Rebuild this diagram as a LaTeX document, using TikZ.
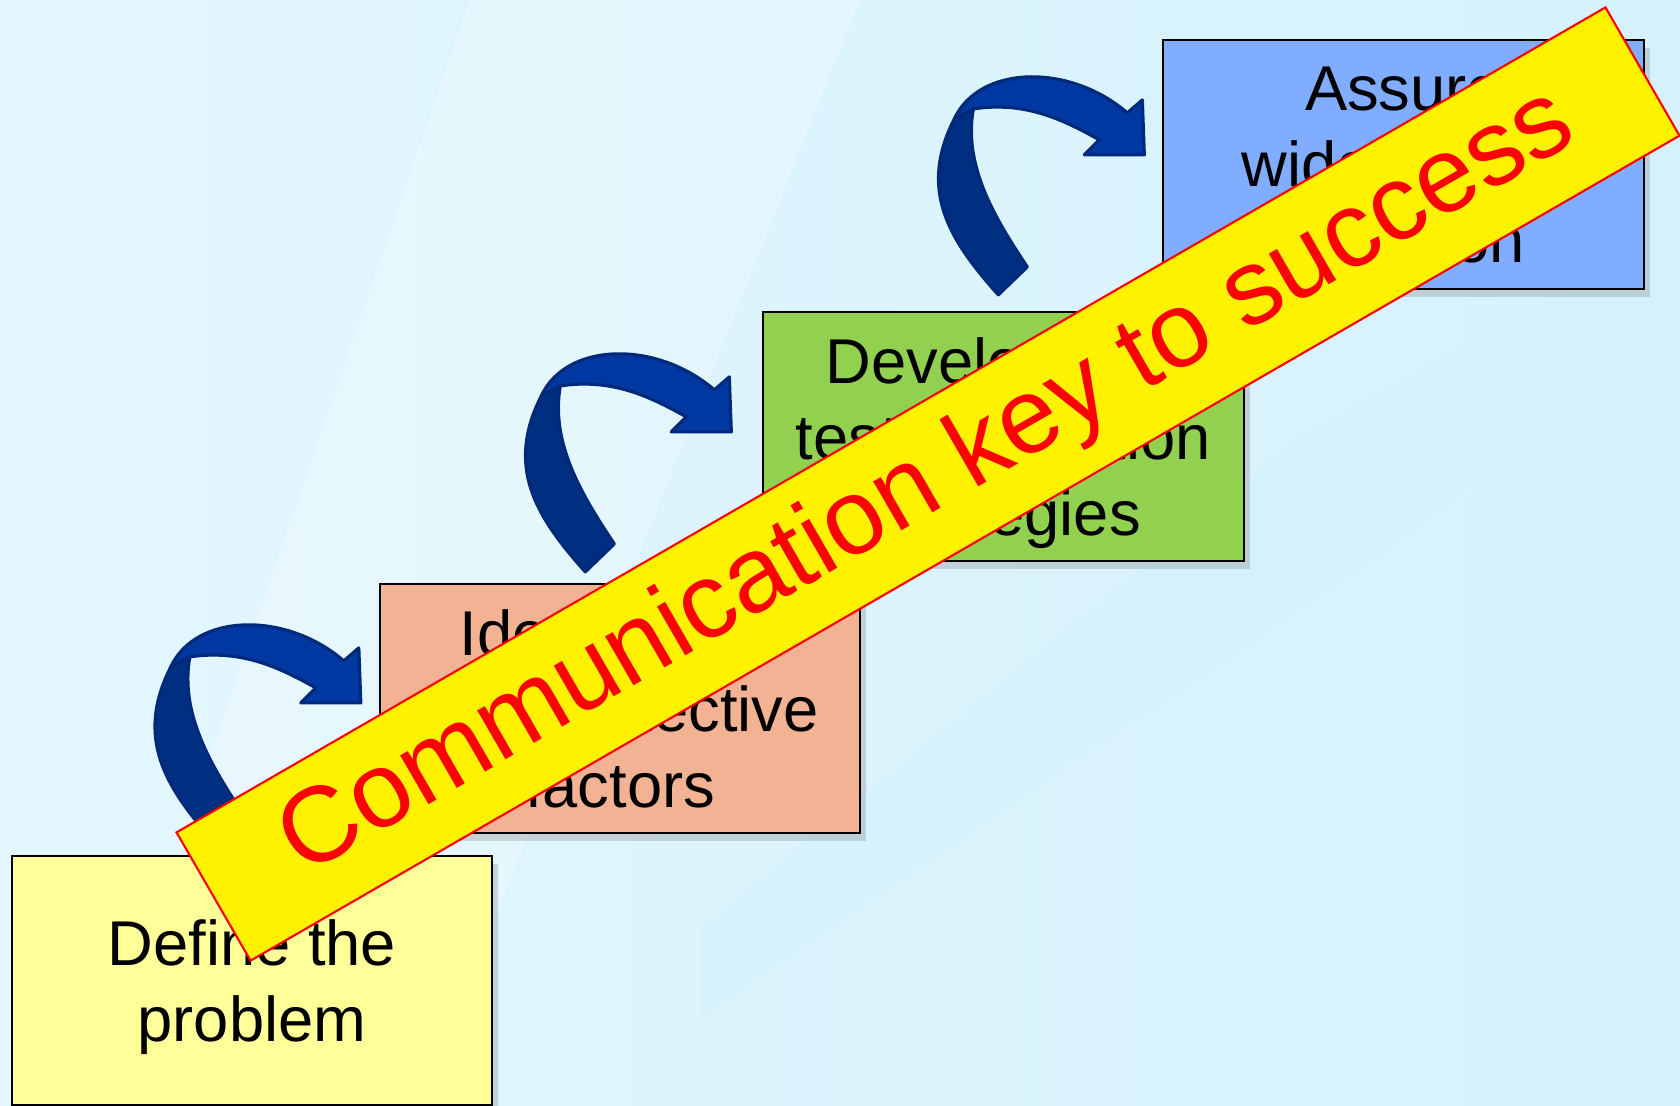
\documentclass[tikz,border=0pt]{standalone}
\usepackage{fontspec}
\setmainfont{Liberation Sans}
\usetikzlibrary{shadows,calc}

\definecolor{skytop}{HTML}{E3F6FD}
\definecolor{skybottom}{HTML}{D5F2FC}
\definecolor{skyband}{HTML}{C4EDFB}
\definecolor{definefill}{HTML}{FFFF99}
\definecolor{identifyfill}{HTML}{F2B395}
\definecolor{developfill}{HTML}{92D050}
\definecolor{assurefill}{HTML}{80ADFF}
\definecolor{arrowback}{HTML}{002E80}
\definecolor{arrowfront}{HTML}{0038A2}
\definecolor{arrowedge}{HTML}{00297A}

\begin{document}
\begin{tikzpicture}[x=0.01cm, y=-0.01cm,
    stepbox/.style={draw=black, line width=0.6pt, minimum width=4.8cm, minimum height=2.49cm,
        inner sep=0pt, align=center, text depth=0pt,
        font=\fontsize{18}{21.6}\selectfont,
        drop shadow={shadow xshift=0.6mm, shadow yshift=-0.8mm, opacity=0.3}},
    arrowpart/.style={draw=arrowedge, line width=0.9pt, line join=round},
    banner/.style={draw=red, line width=0.6pt, fill=yellow, text=red, rotate=30,
        minimum width=16.49cm, minimum height=1.48cm, inner sep=0pt,
        font=\fontsize{30.4}{36}\selectfont}]

    % background
    \useasboundingbox (0,0) rectangle (1680,1105);
    \shade[left color=skytop, right color=skybottom] (0,0) rectangle (1680,1105);
    \fill[white, opacity=0.2] (470,0) -- (860,0) -- (420,1105) -- (90,1105) -- cycle;
    \shade[left color=skybottom, middle color=skyband, right color=skybottom, opacity=0.8]
        (700,929) -- (1300,437) -- (1680,230) -- (1680,330) -- (1392,545) -- (700,1019) -- cycle;

    % the four steps
    \node[stepbox, fill=definefill] (define) at (252,980.5) {Define the\\problem};
    \node[stepbox, fill=identifyfill] (identify) at (620,708.5) {Identify risk\\and protective\\factors};
    \node[stepbox, fill=developfill] (develop) at (1003.5,436.5) {Develop and\\test prevention\\strategies};
    \node[stepbox, fill=assurefill] (assure) at (1403.5,164.5) {Assure\\widespread\\adoption};

    % curved arrows, head just left of the next step
    \foreach \nxt/\dx/\dy in {identify/-18/120, develop/-31/121, assure/-18/116}
    {
        \begin{scope}[shift={($(\nxt.north west)+(\dx,\dy)$)}]
            \filldraw[arrowpart, fill=arrowback] (-171,-46) -- (-185,-44) -- (-190,-36)
                .. controls (-226,35) and (-196,84) .. (-146,140) -- (-117,112)
                .. controls (-150.6,62) and (-181,10) .. (-171,-46) -- cycle;
            \filldraw[arrowpart, fill=arrowfront] (-45,-15) -- (-60,0) -- (0,0) -- (-2,-55) -- (-17,-42)
                .. controls (-75,-92) and (-165,-90) .. (-190,-36) -- (-171,-46)
                .. controls (-121,-53.5) and (-84,-37) .. (-45,-15) -- cycle;
        \end{scope}
    }

    % slogan
    \node[banner] (slogan) at (928,484) {Communication key to success};
\end{tikzpicture}
\end{document}
